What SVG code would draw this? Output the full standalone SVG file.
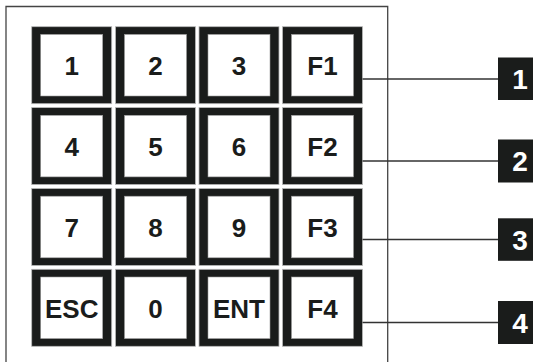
<svg xmlns="http://www.w3.org/2000/svg" width="533" height="362" viewBox="0 0 533 362">
<style>
.frame{fill:none;stroke:#444;stroke-width:1.3}
.key-outer{fill:#1a1c1b;stroke:#b8b8b8;stroke-width:0.8}
.key-inner{fill:#fff;stroke:#999;stroke-width:0.6}
.key-text{font-family:"Liberation Sans",Arial,sans-serif;font-weight:bold;font-size:26px;fill:#1a1c1b;text-anchor:middle}
.conn{stroke:#333;stroke-width:1.3;fill:none}
.tag{fill:#1a1c1b}
.tag-text{font-family:"Liberation Sans",Arial,sans-serif;font-weight:bold;font-size:28px;fill:#fff;text-anchor:middle}
</style>
<rect width="533" height="362" fill="#fff"/>
<path class="frame" d="M6,364 V6.5 H387.7 V364"/>
<defs>
<g id="keybox">
<rect class="key-outer" x="0" y="0" width="80" height="77"/>
<rect class="key-inner" x="9" y="7.7" width="62" height="61.6"/>
</g>
</defs>
<g id="key-1"><use href="#keybox" x="31.7" y="26.7"/><text class="key-text" x="71.7" y="74.5">1</text></g>
<g id="key-2"><use href="#keybox" x="115.5" y="26.7"/><text class="key-text" x="155.5" y="74.5">2</text></g>
<g id="key-3"><use href="#keybox" x="199" y="26.7"/><text class="key-text" x="239" y="74.5">3</text></g>
<g id="key-F1"><use href="#keybox" x="282.5" y="26.7"/><text class="key-text" x="322.5" y="74.5">F1</text></g>
<g id="key-4"><use href="#keybox" x="31.7" y="107.6"/><text class="key-text" x="71.7" y="155.5">4</text></g>
<g id="key-5"><use href="#keybox" x="115.5" y="107.6"/><text class="key-text" x="155.5" y="155.5">5</text></g>
<g id="key-6"><use href="#keybox" x="199" y="107.6"/><text class="key-text" x="239" y="155.5">6</text></g>
<g id="key-F2"><use href="#keybox" x="282.5" y="107.6"/><text class="key-text" x="322.5" y="155.5">F2</text></g>
<g id="key-7"><use href="#keybox" x="31.7" y="188.5"/><text class="key-text" x="71.7" y="236.5">7</text></g>
<g id="key-8"><use href="#keybox" x="115.5" y="188.5"/><text class="key-text" x="155.5" y="236.5">8</text></g>
<g id="key-9"><use href="#keybox" x="199" y="188.5"/><text class="key-text" x="239" y="236.5">9</text></g>
<g id="key-F3"><use href="#keybox" x="282.5" y="188.5"/><text class="key-text" x="322.5" y="236.5">F3</text></g>
<g id="key-ESC"><use href="#keybox" x="31.7" y="269.3"/><text class="key-text" x="71.7" y="317.5">ESC</text></g>
<g id="key-0"><use href="#keybox" x="115.5" y="269.3"/><text class="key-text" x="155.5" y="317.5">0</text></g>
<g id="key-ENT"><use href="#keybox" x="199" y="269.3"/><text class="key-text" x="239" y="317.5">ENT</text></g>
<g id="key-F4"><use href="#keybox" x="282.5" y="269.3"/><text class="key-text" x="322.5" y="317.5">F4</text></g>
<g id="connectors">
<line class="conn" x1="362.5" y1="79" x2="498" y2="79"/>
<line class="conn" x1="362.5" y1="161" x2="498" y2="161"/>
<line class="conn" x1="362.5" y1="239.5" x2="498" y2="239.5"/>
<line class="conn" x1="362.5" y1="322.5" x2="498" y2="322.5"/>
</g>
<g id="tag-1"><rect class="tag" x="498" y="57.5" width="40" height="42.5"/><text class="tag-text" x="520" y="89">1</text></g>
<g id="tag-2"><rect class="tag" x="498" y="139.5" width="40" height="43"/><text class="tag-text" x="520" y="171">2</text></g>
<g id="tag-3"><rect class="tag" x="498" y="218.3" width="40" height="42.5"/><text class="tag-text" x="520" y="249.5">3</text></g>
<g id="tag-4"><rect class="tag" x="498" y="301" width="40" height="43"/><text class="tag-text" x="520" y="332.5">4</text></g>
</svg>
